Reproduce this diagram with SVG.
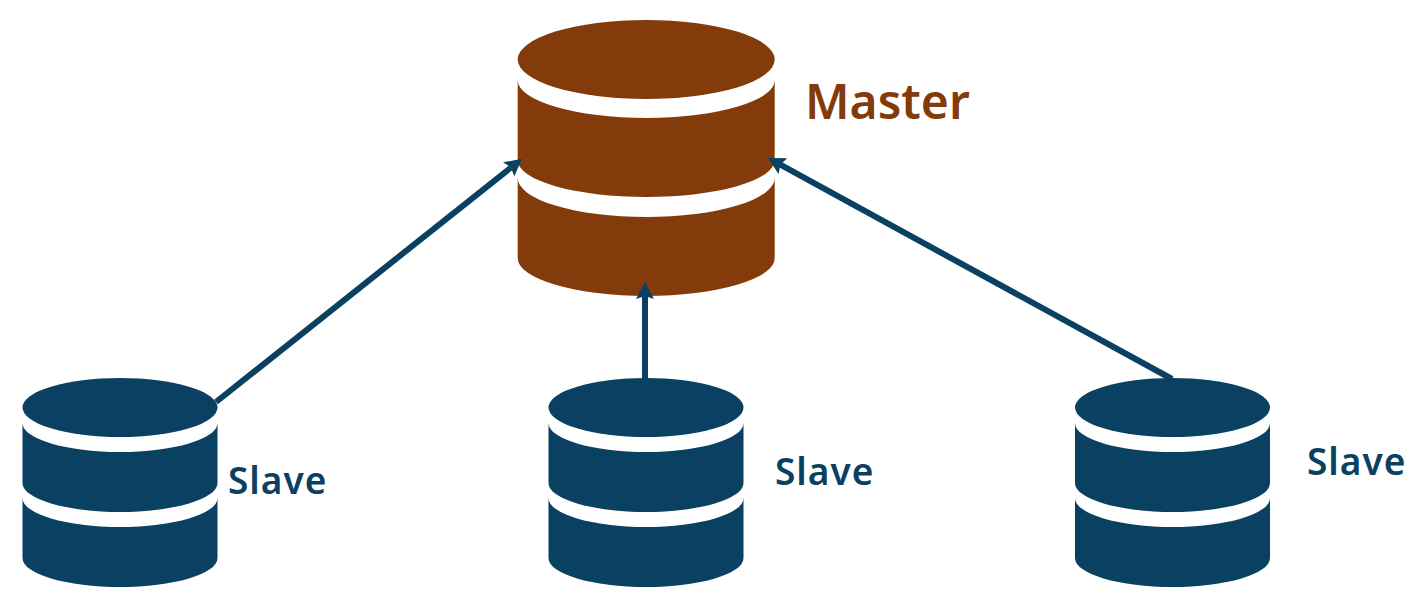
<svg xmlns="http://www.w3.org/2000/svg" width="1428" height="602" viewBox="0 0 1428 602">
<style>
.m{fill:#833b0b}
.s{fill:#0a4162}
.conn{stroke:#0a4162;stroke-width:6;fill:none;marker-end:url(#arr)}
text{font-family:"Noto Sans","Open Sans",sans-serif;font-weight:600}
.lm{font-size:48px;fill:#833b0b}
.ls{font-size:37px;letter-spacing:1px;fill:#0a4162}
</style>
<defs>
<marker id="arr" markerUnits="userSpaceOnUse" markerWidth="20" markerHeight="20" refX="3" refY="9" orient="auto"><path d="M0 0L17 9L0 18L3 9Z" fill="#0a4162"/></marker>
<g id="slaveShape">
<ellipse cx="97.5" cy="29.5" rx="97.5" ry="29.5"/>
<path d="M0 45A97.5 29 0 0 0 195 45V105A97.5 29 0 0 1 0 105Z"/>
<path d="M0 120A97.5 29 0 0 0 195 120V180A97.5 29 0 0 1 0 180Z"/>
</g>
</defs>
<g id="master" class="m">
<ellipse cx="646.2" cy="59.5" rx="128.5" ry="39.5"/>
<path d="M517.7 80A128.5 38 0 0 0 774.7 80V160A128.5 37 0 0 1 517.7 160Z"/>
<path d="M517.7 178A128.5 39 0 0 0 774.7 178V258A128.5 38 0 0 1 517.7 258Z"/>
<text class="lm" x="805" y="119">Master</text>
</g>
<g id="slave1" class="s">
<use href="#slaveShape" x="22.5" y="378"/>
<text class="ls" x="228" y="493.5">Slave</text>
</g>
<g id="slave2" class="s">
<use href="#slaveShape" x="548.5" y="378"/>
<text class="ls" x="775" y="484.5">Slave</text>
</g>
<g id="slave3" class="s">
<use href="#slaveShape" x="1075" y="378"/>
<text class="ls" x="1307" y="474.5">Slave</text>
</g>
<g id="connectors">
<path class="conn" d="M216 402L511 167.5"/>
<path class="conn" d="M645 379V296"/>
<path class="conn" d="M1172 379L780.3 164.7"/>
</g>
</svg>
